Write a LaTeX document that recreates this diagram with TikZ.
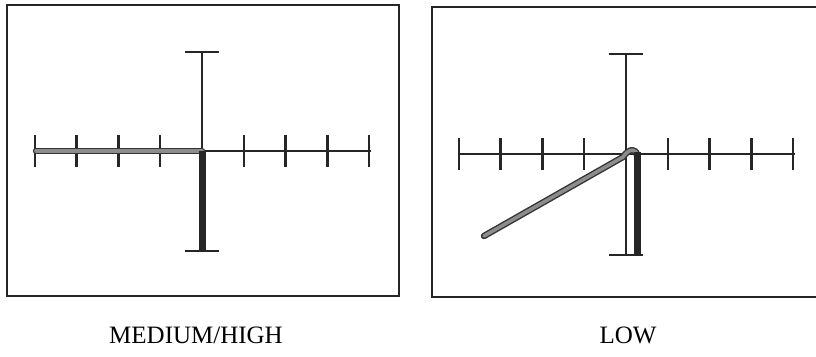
\documentclass[tikz,border=0pt]{standalone}
\usepackage{fontspec}
\setmainfont{Liberation Serif}
\usetikzlibrary{calc}

\begin{document}
\begin{tikzpicture}[x=1pt, y=-1pt,
	screen/.style = {draw=black!85, line width=2.2pt},
	axis/.style = {draw=black!85, line width=1.6pt},
	scaletick/.style = {draw=black!85, line width=2.4pt},
	endbar/.style = {draw=black!85, line width=2pt},
	sweep/.style = {draw=black!80, line width=1.4pt, double=black!45, double distance=3.6pt, line cap=round, line join=round},
	bar/.style = {draw=black!85, line width=7pt},
	lab/.style = {font=\fontsize{25}{29}\selectfont, anchor=base}
]
\useasboundingbox (0,0) rectangle (816,356);

% Left screen: medium/high reading
\draw[screen] (7,5) rectangle (399,296);
\coordinate (O1) at (202,151);

% Graticule of the left screen
\draw[axis] ($(O1)+(-166,0)$) -- ($(O1)+(169,0)$);
\foreach \k in {-4,-3,-2,-1,1,2,3,4} {
  \draw[scaletick] ($(O1)+(\k*41.8,-16)$) -- ++(0,32);
}
\draw[axis] ($(O1)+(0,-99)$) -- ($(O1)+(0,100)$);
\draw[endbar] ($(O1)+(-17,-99)$) -- ++(34,0);
\draw[endbar] ($(O1)+(-17,100)$) -- ++(34,0);

% Trace: along the left arm, then straight down
\draw[sweep] ($(O1)+(-166,0)$) -- (O1);
\draw[bar] (O1) -- ($(O1)+(0,100)$);

% Right screen: low reading (right edge runs off the page)
\draw[screen] (432,7) rectangle (822,297);
\coordinate (O2) at (626,154);

% Graticule of the right screen
\draw[axis] ($(O2)+(-166,0)$) -- ($(O2)+(169,0)$);
\foreach \k in {-4,-3,-2,-1,1,2,3,4} {
  \draw[scaletick] ($(O2)+(\k*41.8,-16)$) -- ++(0,32);
}
\draw[axis] ($(O2)+(0,-100)$) -- ($(O2)+(0,101)$);
\draw[endbar] ($(O2)+(-17,-100)$) -- ++(34,0);
\draw[endbar] ($(O2)+(-17,101)$) -- ++(34,0);

% Trace: slanted sweep with a small hook, then down beside the axis
\draw[sweep] ($(O2)+(-142,82)$) -- ($(O2)+(-3,3)$)
  .. controls ($(O2)+(3,-6)$) and ($(O2)+(11,-6)$) .. ($(O2)+(11,2)$);
\draw[bar] ($(O2)+(11,-2)$) -- ($(O2)+(11,101)$);

% Captions
\node[lab] (medhigh) at (196,343) {MEDIUM/HIGH};
\node[lab] (low) at (628,343) {LOW};

\end{tikzpicture}
\end{document}
